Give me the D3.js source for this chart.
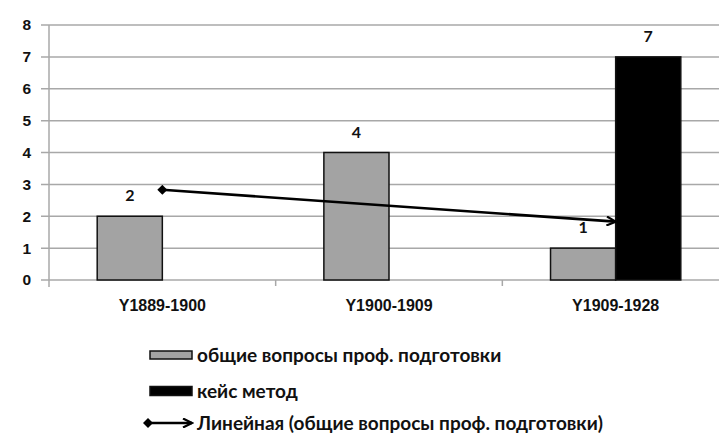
<!DOCTYPE html>
<html>
<head>
<meta charset="utf-8">
<script src="https://cdn.jsdelivr.net/npm/d3@7"></script>
<style>
  body { margin: 0; background: #fff; }
  svg { display: block; font-family: Lato, "Open Sans", sans-serif; font-weight: bold; }
</style>
</head>
<body>
<svg id="chart" width="719" height="438"></svg>
<script>
// chart data
var categories = ["Y1889-1900", "Y1900-1909", "Y1909-1928"];
var seriesNames = ["общие вопросы проф. подготовки", "кейс метод"];
var generalValues = [2, 4, 1];
var caseValues = [0, 0, 7];
var trendValues = [2.83, 1.83]; // linear trend, first and last category
var trendName = "Линейная (общие вопросы проф. подготовки)";
var yTicks = [0, 1, 2, 3, 4, 5, 6, 7, 8];

var dimensions = {
  width: 719,
  height: 438,
  margin: { top: 25, bottom: 158, left: 49, right: -10 }
};

var colors = { general: "#a3a3a3", cases: "#000" };

var svg = d3.select("#chart");

var x = d3.scaleBand()
  .domain(categories)
  .range([dimensions.margin.left, dimensions.width - dimensions.margin.right]);

var xSub = d3.scaleBand()
  .domain(seriesNames)
  .range([0, x.bandwidth()])
  .paddingOuter(0.74);

var y = d3.scaleLinear()
  .domain([0, 8])
  .range([dimensions.height - dimensions.margin.bottom, dimensions.margin.top]);

// gridlines
svg.append("g")
  .selectAll("line")
  .data(yTicks)
  .enter().append("line")
    .attr("x1", dimensions.margin.left - 8)
    .attr("x2", dimensions.width)
    .attr("y1", function(d) { return y(d); })
    .attr("y2", function(d) { return y(d); })
    .attr("stroke", "#a8a8a8")
    .attr("stroke-width", 1.5);

// y axis
var yAxis = svg.append("g")
  .attr("transform", "translate(" + dimensions.margin.left + ",0)")
  .call(d3.axisLeft(y).tickValues(yTicks).tickFormat(d3.format("d")).tickSize(0).tickPadding(18));
yAxis.select(".domain").attr("stroke", "#a8a8a8").attr("stroke-width", 1.5)
  .attr("d", "M0," + (y(0) + 7) + "V" + y(8));
yAxis.selectAll("text").style("font-size", "15.5px").style("font-family", null).attr("fill", "#111");

// x axis
var xAxis = svg.append("g")
  .attr("transform", "translate(0," + y(0) + ")")
  .call(d3.axisBottom(x).tickSize(0).tickPadding(20));
xAxis.select(".domain").remove();
xAxis.selectAll("text").style("font-size", "16px").style("font-family", null).attr("fill", "#111");
xAxis.selectAll(".bnd")
  .data(categories.slice(1))
  .enter().append("line")
    .attr("x1", function(d) { return x(d); })
    .attr("x2", function(d) { return x(d); })
    .attr("y1", 0).attr("y2", 6)
    .attr("stroke", "#a8a8a8").attr("stroke-width", 1.5);

// bars
var rows = categories.map(function(c, i) {
  return { cat: c, values: [
    { key: seriesNames[0], value: generalValues[i], fill: colors.general },
    { key: seriesNames[1], value: caseValues[i], fill: colors.cases }
  ] };
});

var groups = svg.append("g")
  .selectAll("g")
  .data(rows)
  .enter().append("g")
    .attr("transform", function(d) { return "translate(" + x(d.cat) + ",0)"; });

groups.selectAll("rect")
  .data(function(d) { return d.values.filter(function(v) { return v.value > 0; }); })
  .enter().append("rect")
    .attr("x", function(d) { return xSub(d.key); })
    .attr("y", function(d) { return y(d.value); })
    .attr("width", xSub.bandwidth())
    .attr("height", function(d) { return y(0) - y(d.value); })
    .attr("fill", function(d) { return d.fill; })
    .attr("stroke", "#111")
    .attr("stroke-width", 1.5);

groups.selectAll("text.val")
  .data(function(d) { return d.values.filter(function(v) { return v.value > 0; }); })
  .enter().append("text")
    .attr("class", "val")
    .text(function(d) { return d.value; })
    .attr("x", function(d) { return xSub(d.key) + xSub.bandwidth() / 2; })
    .attr("y", function(d) { return y(d.value) - 15; })
    .attr("text-anchor", "middle")
    .style("font-size", "16px")
    .attr("fill", "#111");

// trend line with diamond start and arrow end
var defs = svg.append("defs");
defs.append("marker")
  .attr("id", "diamond")
  .attr("viewBox", "-5 -5 10 10")
  .attr("markerWidth", 10).attr("markerHeight", 10)
  .attr("markerUnits", "userSpaceOnUse")
  .append("path").attr("d", "M-5,0L0,-5L5,0L0,5Z").attr("fill", "#000");
defs.append("marker")
  .attr("id", "arrow")
  .attr("viewBox", "-10 -5 12 10")
  .attr("refX", 0).attr("refY", 0)
  .attr("markerWidth", 12).attr("markerHeight", 10)
  .attr("markerUnits", "userSpaceOnUse")
  .attr("orient", "auto")
  .append("path").attr("d", "M-9,-4.5L0,0L-9,4.5").attr("fill", "none").attr("stroke", "#000").attr("stroke-width", 2.2);

var trendX = [categories[0], categories[categories.length - 1]];
svg.append("line")
  .attr("x1", x(trendX[0]) + x.bandwidth() / 2)
  .attr("y1", y(trendValues[0]))
  .attr("x2", x(trendX[1]) + x.bandwidth() / 2)
  .attr("y2", y(trendValues[1]))
  .attr("stroke", "#000")
  .attr("stroke-width", 2.6)
  .attr("marker-start", "url(#diamond)")
  .attr("marker-end", "url(#arrow)");

// legend
var legend = svg.append("g").attr("transform", "translate(150,0)");
var legendY = [355, 391, 423];

legend.append("rect").attr("x", 0).attr("y", legendY[0] - 4).attr("width", 42).attr("height", 8)
  .attr("fill", colors.general).attr("stroke", "#111").attr("stroke-width", 1.5);
legend.append("rect").attr("x", 0).attr("y", legendY[1] - 4.5).attr("width", 42).attr("height", 9)
  .attr("fill", colors.cases).attr("stroke", "#111").attr("stroke-width", 1.5);
legend.append("line").attr("x1", -2).attr("x2", 42).attr("y1", legendY[2]).attr("y2", legendY[2])
  .attr("stroke", "#000").attr("stroke-width", 2.4)
  .attr("marker-start", "url(#diamond)").attr("marker-end", "url(#arrow)");

var legendLabels = [seriesNames[0], seriesNames[1], trendName];
legend.selectAll("text.leg")
  .data(legendLabels)
  .enter().append("text")
    .attr("class", "leg")
    .text(function(d) { return d; })
    .attr("x", 47)
    .attr("y", function(d, i) { return legendY[i]; })
    .attr("dy", "0.35em")
    .style("font-size", "19px")
    .attr("fill", "#111");
</script>
</body>
</html>
